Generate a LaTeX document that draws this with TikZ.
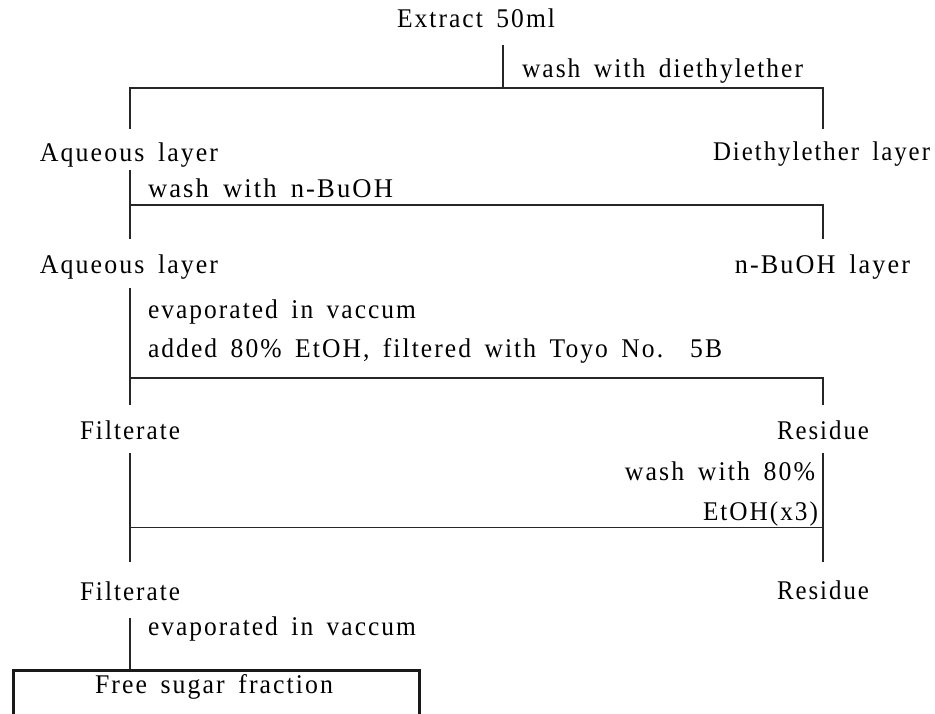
\documentclass[tikz,border=0pt]{standalone}
\usepackage{fontspec}
\usepackage{graphicx}
\setmainfont{Liberation Serif}[LetterSpace=8,WordSpace=1.6]
\newcommand\tw[2]{\resizebox{#1pt}{\height}{#2}}
\tikzset{
  lbl/.style={inner sep=0pt, outer sep=0pt, font=\fontsize{27}{32}\selectfont},
  ln/.style={line width=1.3pt, draw=black!85},
  thinln/.style={line width=1pt, draw=black!85},
  boxst/.style={draw=black!90, line width=2.5pt, inner sep=0pt, fill=none}
}
\begin{document}
\begin{tikzpicture}[x=1pt,y=-1pt]
\useasboundingbox (0,0) rectangle (935,713);
\clip (0,0) rectangle (935,713);
% text nodes
\node[lbl, anchor=base west] (ext) at (397,27) {\tw{158}{Extract 50ml}};
\node[lbl, anchor=base west] (w1) at (522,77) {\tw{281}{wash with diethylether}};
\node[lbl, anchor=base west] (aq1) at (40,161) {\tw{178}{Aqueous layer}};
\node[lbl, anchor=base east] (de) at (930,160) {\tw{217}{Diethylether layer}};
\node[lbl, anchor=base west] (w2) at (148,197) {\tw{245}{wash with n-BuOH}};
\node[lbl, anchor=base west] (aq2) at (40,273) {\tw{178}{Aqueous layer}};
\node[lbl, anchor=base east] (bu) at (910,273) {\tw{175}{n-BuOH layer}};
\node[lbl, anchor=base west] (ev1) at (148,318) {\tw{268}{evaporated in vaccum}};
\node[lbl, anchor=base west] (add) at (148,357) {\tw{574}{added 80\% EtOH, filtered with Toyo No.~~5B}};
\node[lbl, anchor=base west] (f1) at (80,439) {\tw{100}{Filterate}};
\node[lbl, anchor=base east] (r1) at (869,439) {\tw{92}{Residue}};
\node[lbl, anchor=base east] (w3) at (815,480) {\tw{190}{wash with 80\%}};
\node[lbl, anchor=base east] (et) at (818,520) {\tw{115}{EtOH(x3)}};
\node[lbl, anchor=base west] (f2) at (80,600) {\tw{100}{Filterate}};
\node[lbl, anchor=base east] (r2) at (869,599) {\tw{92}{Residue}};
\node[lbl, anchor=base west] (ev2) at (148,635) {\tw{268}{evaporated in vaccum}};
% final box
\node[boxst, anchor=north west, minimum width=406pt, minimum height=90pt] (box) at (12,669) {};
\node[lbl, anchor=base west] (fsf) at (95,693) {\tw{238}{Free sugar fraction}};
% junction coordinates
\coordinate (a0) at (503,45);
\coordinate (a1) at (503,88);
\coordinate (aL) at (130,88);
\coordinate (aR) at (823,88);
\coordinate (aLe) at (130,129);
\coordinate (aRe) at (823,129);
\coordinate (b0) at (130,170);
\coordinate (bL) at (130,205);
\coordinate (bR) at (823,205);
\coordinate (bLe) at (130,239);
\coordinate (bRe) at (823,239);
\coordinate (c0) at (130,288);
\coordinate (cL) at (130,378);
\coordinate (cR) at (823,378);
\coordinate (cLe) at (130,405);
\coordinate (cRe) at (823,405);
\coordinate (d0) at (130,453);
\coordinate (dR0) at (823,453);
\coordinate (dL) at (130,527);
\coordinate (dR) at (823,527);
\coordinate (dLe) at (130,562);
\coordinate (dRe) at (823,562);
\coordinate (e0) at (130,618);
\coordinate (eb) at (130,669);
% connectors
\draw[ln] (a0) -- (a1);
\draw[ln] (aLe) -- (aL) -- (aR) -- (aRe);
\draw[ln] (b0) -- (bLe);
\draw[ln] (bL) -- (bR) -- (bRe);
\draw[ln] (c0) -- (cLe);
\draw[ln] (cL) -- (cR) -- (cRe);
\draw[ln] (d0) -- (dLe);
\draw[ln] (dR0) -- (dRe);
\draw[thinln] (dL) -- (dR);
\draw[ln] (e0) -- (eb);
\end{tikzpicture}
\end{document}
